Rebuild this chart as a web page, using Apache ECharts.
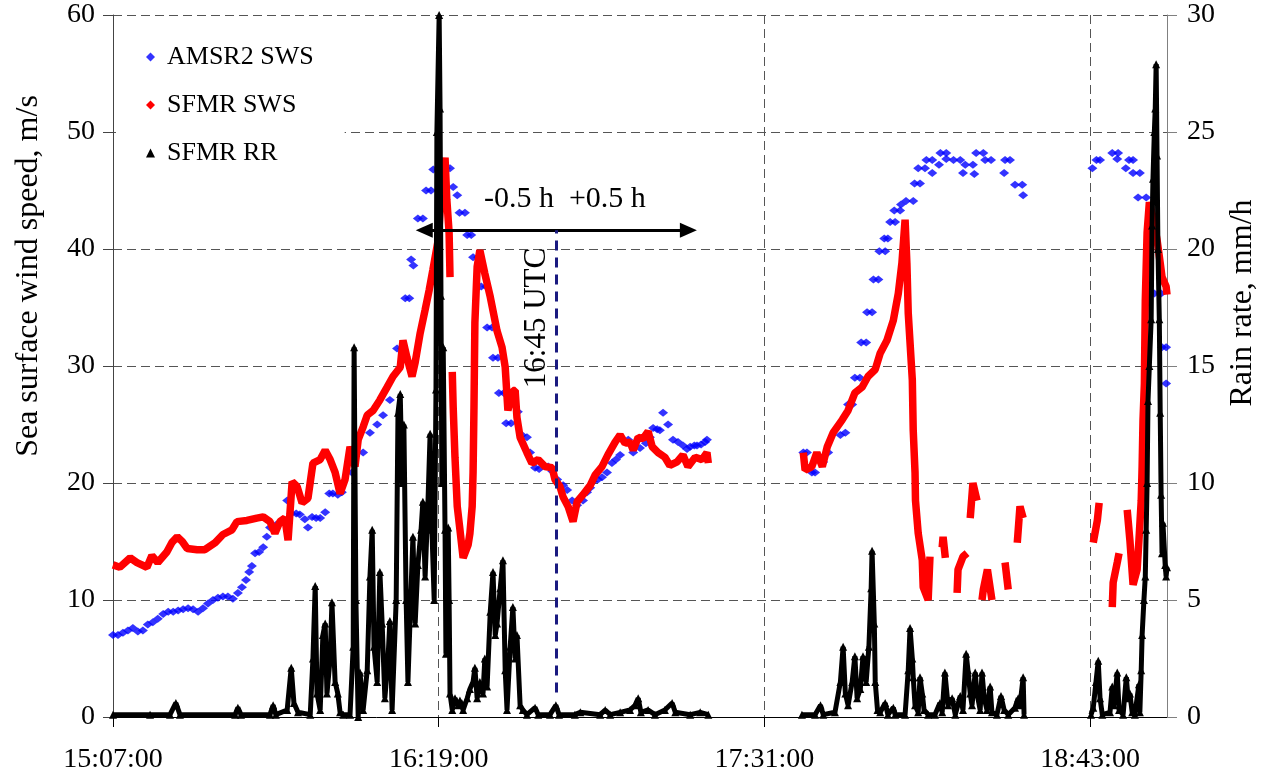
<!DOCTYPE html>
<html>
<head>
<meta charset="utf-8">
<script src="https://cdn.jsdelivr.net/npm/echarts@6/dist/echarts.min.js"></script>
<style>
  html, body { margin: 0; padding: 0; background: #fff; }
  #chart { width: 1268px; height: 782px; }
</style>
</head>
<body>
<div id="chart"></div>
<script>
// x values are minutes after 15:07:00
const timeTicks = ['15:07:00', '16:19:00', '17:31:00', '18:43:00']

const amsrSws = [
  [0.0, 7.0], [1.1, 7.0], [2.2, 7.2], [3.3, 7.4], [4.4, 7.6], [5.5, 7.3], [6.6, 7.4], [7.7, 7.9], [8.8, 8.1], [9.9, 8.4],
  [11.1, 8.8], [12.2, 9.0], [13.3, 9.0], [14.4, 9.1], [15.5, 9.2], [16.6, 9.3], [17.7, 9.2], [18.8, 9.0], [19.9, 9.3], [21.0, 9.7],
  [22.1, 10.0], [23.2, 10.2], [24.3, 10.3], [25.4, 10.3], [26.5, 10.1], [27.6, 10.6], [28.5, 11.1], [29.4, 11.7], [30.1, 12.4], [30.7, 12.9],
  [31.4, 14.0], [32.3, 14.1], [33.2, 14.5], [34.0, 15.4], [34.7, 16.2], [36.0, 16.4], [37.1, 16.7], [38.5, 18.5], [39.4, 17.4], [40.5, 17.4],
  [41.3, 17.3], [42.4, 16.9], [43.1, 16.2], [44.0, 17.1], [44.9, 17.0], [45.8, 17.0], [46.9, 17.5], [47.8, 19.1], [48.6, 19.1], [49.7, 19.0],
  [50.6, 19.2], [52.8, 20.9], [55.3, 22.6], [56.8, 24.3], [58.4, 25.0], [59.7, 25.8], [61.2, 27.1], [62.8, 31.5], [63.9, 31.5], [64.6, 35.8],
  [65.5, 35.8], [65.9, 39.1], [66.4, 38.6], [67.4, 42.6], [68.5, 42.6], [69.2, 45.0], [70.3, 45.0], [70.8, 46.8], [72.1, 46.8], [73.6, 46.9],
  [74.5, 46.9], [75.2, 45.3], [76.1, 44.6], [76.6, 43.1], [77.8, 43.1], [78.3, 41.2], [79.2, 41.2], [79.6, 39.3], [80.7, 39.3], [81.4, 36.8],
  [82.5, 36.8], [82.7, 33.3], [83.8, 33.3], [84.0, 30.7], [85.1, 30.7], [85.3, 27.7], [86.4, 27.7], [86.9, 25.1], [88.0, 25.1], [89.5, 26.1],
  [90.4, 24.1], [91.5, 23.9], [92.2, 22.6], [93.3, 21.3], [94.2, 21.2], [96.2, 21.4], [97.1, 21.0], [98.2, 20.3], [99.5, 19.8], [100.4, 19.4],
  [101.5, 18.5], [102.6, 18.1], [103.9, 18.5], [104.8, 19.2], [105.5, 19.6], [106.1, 20.1], [107.2, 20.3], [108.1, 20.5], [109.2, 20.9], [110.3, 21.7],
  [111.2, 22.0], [112.1, 22.4], [113.9, 23.7], [115.0, 22.6], [116.5, 23.0], [117.8, 23.4], [118.7, 23.9], [119.4, 24.7], [120.3, 24.6], [120.9, 24.5],
  [121.6, 26.0], [122.7, 25.0], [123.8, 23.7], [124.9, 23.5], [126.0, 23.2], [126.9, 22.9], [127.6, 23.1], [128.5, 23.2], [129.1, 23.2], [130.0, 23.3],
  [130.9, 23.5], [131.3, 23.7],
  [152.6, 22.6], [153.4, 22.6], [154.5, 20.9], [155.2, 20.9], [157.0, 21.8], [158.1, 22.6], [160.8, 24.1], [161.9, 24.3], [162.5, 26.7], [163.4, 26.7],
  [164.0, 29.0], [165.1, 29.0], [165.4, 32.0], [166.5, 32.0], [166.7, 34.6], [167.8, 34.6], [168.1, 37.4], [169.2, 37.4], [169.4, 39.8], [170.7, 39.8],
  [170.5, 40.9], [171.3, 40.9], [171.8, 42.3], [172.9, 42.3], [172.7, 43.3], [174.0, 43.3], [174.2, 43.8], [175.3, 44.1], [176.9, 44.1], [177.2, 45.6],
  [178.4, 45.6], [178.0, 46.9], [179.5, 46.9], [179.8, 47.6], [181.1, 47.6], [181.1, 46.5], [182.6, 47.2], [182.9, 48.2], [184.2, 48.2], [184.2, 47.7],
  [185.8, 47.6], [187.3, 47.6], [187.9, 46.5], [188.4, 47.2], [190.1, 47.2], [190.4, 46.4], [190.8, 48.2], [192.4, 48.2], [192.8, 47.6], [194.1, 47.6],
  [197.0, 46.5], [197.2, 47.6], [198.3, 47.6], [199.4, 45.5], [201.0, 45.5], [201.2, 44.6],
  [216.5, 46.9], [217.4, 47.6], [218.2, 47.6], [220.9, 48.2], [222.2, 48.2], [222.0, 47.7], [223.9, 46.9], [224.6, 47.6], [225.5, 47.6], [225.5, 46.5],
  [227.0, 46.5], [226.6, 44.4], [228.4, 44.4], [229.3, 41.2], [230.2, 36.2], [231.7, 36.2], [231.9, 31.6], [232.8, 31.6], [232.8, 28.5]
]

const sfmrSws = [
  [0.0, 13.0], [1.5, 12.8], [3.8, 13.6], [5.3, 13.2], [7.5, 12.8], [8.6, 13.8], [9.9, 13.2], [11.9, 14.1], [13.0, 14.9], [14.2, 15.4],
  [15.3, 15.0], [16.4, 14.4], [18.6, 14.3], [20.3, 14.3], [22.6, 14.9], [24.3, 15.6], [26.3, 16.0], [27.4, 16.7], [29.6, 16.8], [31.8, 17.0],
  [33.2, 17.1], [34.7, 16.7], [35.8, 15.7], [36.9, 16.7], [38.0, 17.0], [38.7, 15.1], [39.6, 20.1], [40.7, 19.7], [41.8, 18.3], [43.1, 18.7],
  [44.2, 21.7], [45.8, 22.0], [46.9, 22.8], [48.0, 22.0], [49.1, 20.9], [50.2, 19.1], [51.3, 20.3], [52.4, 23.1], [53.5, 21.4], [54.2, 23.7],
  [55.3, 24.8], [56.2, 25.8], [57.5, 26.2], [59.0, 27.1], [60.6, 28.2], [61.9, 29.1], [63.5, 29.9], [64.1, 32.2], [65.0, 30.7], [66.1, 29.1],
  [66.8, 30.3], [67.9, 32.8], [69.0, 34.8], [69.9, 36.5], [70.7, 38.2], [71.9, 40.8], [72.7, 45.3], [73.4, 47.8], [73.8, 44.2], [74.3, 41.4],
  [74.5, 37.6], [74.8, null],
  [75.0, 29.5], [75.2, 26.5], [75.6, 22.2], [76.1, 18.0], [76.7, 16.0], [77.4, 13.6], [77.8, 14.0], [78.5, 14.7], [78.9, 15.7], [79.4, 18.0],
  [79.6, 20.9], [79.8, 26.5], [80.0, 33.7], [80.5, 38.5], [81.1, 39.9], [82.2, 37.9], [83.4, 35.9], [84.9, 33.0], [86.0, 31.6], [86.7, 29.9],
  [87.3, 26.2], [88.4, 27.9], [88.9, 27.9], [89.3, 25.6], [90.0, 23.9], [91.5, 22.6], [92.6, 21.7], [94.0, 22.0], [95.5, 21.4], [97.1, 21.3],
  [97.7, 20.3], [98.8, 19.7], [99.5, 18.8], [100.6, 18.0], [101.7, 16.7], [102.6, 18.4], [103.9, 19.0], [105.5, 19.8], [106.6, 20.7], [108.1, 21.4],
  [109.4, 22.4], [111.0, 23.5], [112.1, 24.1], [113.2, 23.4], [114.3, 23.5], [115.0, 22.8], [116.1, 23.9], [117.2, 23.8], [118.3, 24.4], [119.2, 23.1],
  [120.5, 22.6], [122.0, 22.2], [123.1, 21.5], [124.7, 21.8], [126.0, 22.4], [127.1, 21.4], [128.7, 22.2], [130.2, 22.0], [131.3, 22.6], [131.6, 21.7],
  [140, null],
  [152.6, 22.6], [153.0, 21.1], [154.5, 21.4], [155.6, 22.6], [156.8, 21.4], [157.9, 23.1], [159.2, 24.3], [161.2, 25.4], [162.5, 26.2], [164.0, 27.7],
  [165.6, 28.2], [166.9, 29.1], [168.5, 29.7], [169.6, 31.1], [171.1, 32.2], [172.5, 33.9], [173.6, 36.2], [174.4, 38.8], [175.1, 42.5], [175.5, 38.8],
  [175.8, 34.5], [176.7, 28.8], [176.9, 24.5], [177.3, 20.9], [177.4, 18.5], [178.0, 15.7], [178.9, 13.4], [179.1, 11.1], [180.2, 10.0], [180.6, 13.7],
  [181.5, null], [183.3, 14.5], [183.5, 15.4], [184.0, 13.6],
  [185.0, null], [186.6, 10.6], [186.8, 12.6], [187.9, 13.7], [188.8, 14.0],
  [189.2, null], [189.5, 17.0], [190.1, 20.0], [191.0, 18.5],
  [191.5, null], [192.1, 10.0], [192.4, 10.9], [193.3, 12.6], [194.3, 10.0],
  [195.0, null], [197.2, 13.2], [197.9, 10.9],
  [198.5, null], [199.9, 14.9], [200.5, 18.0], [201.2, 17.0],
  [210, null], [216.7, 14.9], [217.6, 16.8], [218.0, 18.3],
  [219.0, null], [220.9, 9.4], [221.1, 11.5], [222.0, 13.2], [222.4, 14.0],
  [223.0, null], [224.2, 17.7], [224.8, 15.1], [225.5, 11.3], [226.4, 12.6], [226.8, 15.1], [227.3, 18.5], [227.5, 21.4], [227.7, 25.4], [228.0, 28.5],
  [228.2, 35.6], [228.6, 41.4], [229.1, 44.0], [229.9, 42.7], [230.8, 40.8], [231.5, 38.8], [231.9, 37.6], [232.8, 36.8], [233.0, 36.1]
]

const rainRate = [
  [0, 0.1], [8.2, 0.1], [12.6, 0.1], [13.9, 0.6], [14.8, 0.1], [27.0, 0.1], [27.6, 0.4], [28.3, 0.1], [34.7, 0.1], [35.4, 0.5],
  [36.0, 0.1], [38.5, 0.3], [39.4, 2.1], [40.0, 0.6], [40.9, 0.2], [43.6, 0.1], [44.2, 2.5], [44.7, 5.6], [45.1, 1.0], [45.8, 0.3],
  [46.4, 3.5], [46.9, 4.0], [47.3, 1.0], [48.0, 2.5], [48.4, 4.9], [49.1, 1.5], [49.7, 1.0], [50.2, 0.2], [50.9, 0.1], [52.4, 0.1],
  [53.1, 3.0], [53.3, 15.8], [53.7, 5.0], [54.2, 0.0], [54.6, 1.9], [55.3, 0.3], [56.2, 2.0], [56.8, 6.0], [57.3, 8.0], [57.7, 3.0],
  [58.4, 1.5], [59.0, 6.2], [59.5, 4.0], [60.1, 0.8], [60.8, 2.5], [61.2, 4.1], [61.7, 0.3], [62.6, 5.0], [63.0, 13.0], [63.5, 13.8],
  [63.9, 10.0], [64.3, 12.5], [64.8, 5.0], [65.2, 1.5], [65.9, 5.5], [66.3, 7.7], [66.8, 4.0], [67.4, 6.5], [68.1, 8.0], [68.5, 9.2],
  [69.0, 6.0], [69.6, 9.0], [70.1, 12.1], [70.5, 8.0], [71.0, 5.0], [71.4, 14.0], [71.6, 25.0], [72.1, 30.0], [72.3, 26.0], [72.5, 18.0],
  [72.7, 10.0], [73.0, 15.8], [73.4, 8.0], [73.6, 2.7], [74.1, 8.1], [74.3, 5.0], [74.5, 1.0], [75.0, 0.3], [75.6, 0.8], [76.3, 0.5],
  [76.7, 0.7], [77.4, 0.3], [78.3, 0.8], [78.9, 1.2], [79.6, 1.5], [80.0, 2.1], [80.5, 0.8], [81.1, 1.5], [81.8, 1.0], [82.2, 2.5],
  [82.7, 1.3], [83.4, 4.5], [84.0, 6.2], [84.5, 3.5], [84.9, 4.0], [85.6, 5.5], [86.2, 6.7], [86.7, 2.0], [87.1, 0.3], [87.8, 3.0],
  [88.4, 4.7], [88.9, 2.5], [89.3, 3.5], [90.0, 0.5], [90.6, 0.3], [91.5, 0.1], [93.3, 0.4], [94.0, 0.1], [96.6, 0.1], [97.9, 0.5],
  [98.6, 0.1], [102.1, 0.1], [103.3, 0.2], [107.7, 0.1], [108.8, 0.3], [109.9, 0.1], [112.1, 0.2], [114.3, 0.3], [115.4, 0.5], [116.1, 0.8],
  [116.7, 0.2], [118.3, 0.3], [119.8, 0.1], [122.0, 0.3], [123.6, 0.6], [124.3, 0.2], [127.6, 0.1], [129.8, 0.2], [131.6, 0.1],
  [140, null],
  [152.3, 0.1], [155.2, 0.1], [156.4, 0.5], [157.0, 0.1], [159.6, 0.2], [160.8, 1.5], [161.4, 3.0], [161.9, 1.0], [162.5, 0.5], [163.4, 1.5],
  [164.0, 2.6], [164.5, 0.8], [165.2, 1.2], [165.8, 2.6], [166.5, 1.5], [167.1, 3.0], [167.6, 5.5], [167.8, 7.1], [168.3, 4.0], [168.5, 1.5],
  [169.0, 0.3], [169.6, 0.2], [170.7, 0.6], [171.3, 0.1], [172.5, 0.4], [172.9, 0.1], [175.1, 0.1], [175.8, 2.0], [176.2, 3.8], [176.7, 2.5],
  [176.9, 1.7], [177.3, 0.5], [178.0, 0.2], [178.4, 1.7], [178.9, 1.0], [179.3, 0.3], [180.2, 0.1], [181.7, 0.1], [182.8, 0.6], [183.3, 0.2],
  [183.9, 1.9], [184.6, 0.5], [185.5, 0.8], [186.2, 0.1], [187.3, 0.9], [187.9, 0.3], [188.6, 2.7], [189.0, 2.0], [189.5, 1.0], [189.9, 0.5],
  [190.6, 1.9], [191.0, 1.0], [191.7, 0.3], [192.1, 1.9], [192.6, 0.8], [193.2, 0.3], [193.9, 1.3], [194.3, 0.2], [195.4, 0.1], [196.3, 0.9],
  [197.0, 0.3], [197.9, 0.1], [199.4, 0.4], [200.1, 0.8], [200.5, 0.5], [201.2, 1.7], [201.4, 0.1],
  [210, null],
  [216.2, 0.1], [216.7, 0.4], [217.3, 1.5], [217.8, 2.4], [218.2, 0.8], [218.7, 0.1], [220.4, 0.2], [220.9, 1.3], [221.3, 0.5], [222.0, 1.9],
  [222.4, 0.3], [223.3, 0.1], [224.0, 1.7], [224.4, 0.8], [224.8, 1.0], [225.3, 0.2], [225.9, 0.1], [226.8, 1.4], [227.0, 0.2], [227.3, 2.0],
  [227.5, 3.5], [227.9, 5.0], [228.2, 6.0], [228.4, 8.0], [228.6, 10.0], [228.8, 13.5], [229.1, 15.0], [229.5, 17.0], [229.7, 21.0], [229.9, 23.0],
  [230.2, 25.0], [230.4, 26.0], [230.6, 27.9], [230.8, 24.0], [231.0, 20.0], [231.3, 17.0], [231.5, 13.0], [231.7, 9.5], [231.9, 7.0], [232.1, 8.3],
  [232.6, 6.5], [232.8, 6.0], [233.0, 6.4]
]

// 16:45 UTC overpass, +/- half an hour window
const overpass = 98
const halfWindow = 30

const serif = '"Liberation Serif", "DejaVu Serif", serif'
const gridDash = { color: '#555', width: 1, type: [9, 5] }

const chart = echarts.init(document.getElementById('chart'))

chart.setOption({
  animation: false,
  backgroundColor: '#fff',
  textStyle: { fontFamily: serif, color: '#000' },
  grid: { left: 113, right: 101, top: 15, bottom: 65, containLabel: false },
  legend: {
    orient: 'vertical',
    left: 116,
    top: 22,
    padding: [20, 31, 20, 30],
    backgroundColor: '#fff',
    itemWidth: 9,
    itemHeight: 9,
    itemGap: 18,
    textStyle: { fontSize: 26, fontFamily: serif, color: '#000', lineHeight: 30, padding: [0, 0, 0, 7] },
    data: [
      { name: 'AMSR2 SWS', icon: 'diamond' },
      { name: 'SFMR SWS', icon: 'diamond' },
      { name: 'SFMR RR', icon: 'triangle' }
    ]
  },
  xAxis: {
    type: 'value',
    min: 0,
    max: 233,
    interval: 72,
    axisLine: { lineStyle: { color: '#000', width: 1 } },
    axisTick: { show: true, length: 10, lineStyle: { color: '#000' } },
    axisLabel: {
      fontSize: 28,
      fontFamily: serif,
      color: '#000',
      margin: 29,
      showMaxLabel: false,
      formatter: v => (v % 72 === 0 ? timeTicks[v / 72] : '')
    },
    splitLine: { show: true, lineStyle: gridDash }
  },
  yAxis: [
    {
      type: 'value',
      min: 0,
      max: 60,
      interval: 10,
      name: 'Sea surface wind speed, m/s',
      nameLocation: 'middle',
      nameGap: 68,
      nameTextStyle: { fontSize: 32, fontFamily: serif, color: '#000', padding: [0, 0, 0, 180] },
      axisLine: { show: true, lineStyle: { color: '#444' } },
      axisTick: { show: true, length: 10, lineStyle: { color: '#444' } },
      axisLabel: { fontSize: 28, fontFamily: serif, color: '#000', margin: 18 },
      splitLine: { show: true, lineStyle: gridDash }
    },
    {
      type: 'value',
      position: 'right',
      min: 0,
      max: 30,
      interval: 5,
      name: 'Rain rate, mm/h',
      nameLocation: 'middle',
      nameGap: 60,
      nameTextStyle: { fontSize: 32, fontFamily: serif, color: '#000', padding: [0, 0, 0, 126] },
      axisLine: { show: true, lineStyle: { color: '#808080' } },
      axisTick: { show: true, length: 10, lineStyle: { color: '#808080' } },
      axisLabel: { fontSize: 28, fontFamily: serif, color: '#000', margin: 20 },
      splitLine: { show: false }
    }
  ],
  series: [
    {
      name: 'AMSR2 SWS',
      type: 'scatter',
      yAxisIndex: 0,
      symbol: 'diamond',
      symbolSize: [10, 8],
      itemStyle: { color: '#0000ff' },
      data: amsrSws,
      markLine: {
        silent: true,
        animation: false,
        label: { show: false },
        data: [
          [
            { coord: [overpass - halfWindow + 0.8, 41.6], symbol: 'triangle', symbolSize: [15, 17] },
            { coord: [overpass + halfWindow - 0.8, 41.6], symbol: 'triangle', symbolSize: [15, 17], lineStyle: { color: '#000', width: 3, type: 'solid' } }
          ],
          [
            { coord: [overpass, 2.1], symbol: 'none' },
            { coord: [overpass, 41.6], symbol: 'none', lineStyle: { color: '#1a1a80', width: 3, type: [10, 7] } }
          ]
        ]
      }
    },
    {
      name: 'SFMR SWS',
      type: 'line',
      yAxisIndex: 0,
      symbol: 'diamond',
      showSymbol: false,
      connectNulls: false,
      itemStyle: { color: '#ff0000' },
      lineStyle: { color: '#ff0000', width: 7.5 },
      data: sfmrSws
    },
    {
      name: 'SFMR RR',
      type: 'line',
      yAxisIndex: 1,
      symbol: 'triangle',
      symbolSize: 8,
      showSymbol: true,
      showAllSymbol: true,
      connectNulls: false,
      itemStyle: { color: '#000' },
      lineStyle: { color: '#000', width: 5 },
      data: rainRate
    }
  ]
})

// annotation texts placed in data coordinates
const pArrow = chart.convertToPixel({ xAxisIndex: 0, yAxisIndex: 0 }, [99.9, 44.3])
const pUtc = chart.convertToPixel({ xAxisIndex: 0, yAxisIndex: 0 }, [93.7, 34.1])

chart.setOption({
  graphic: [
    {
      type: 'text',
      x: pArrow[0],
      y: pArrow[1],
      style: { text: '-0.5 h  +0.5 h', fontSize: 30, fontFamily: serif, fill: '#000', align: 'center', verticalAlign: 'middle' }
    },
    {
      type: 'text',
      x: pUtc[0],
      y: pUtc[1],
      rotation: Math.PI / 2,
      style: { text: '16:45 UTC', fontSize: 31, fontFamily: serif, fill: '#000', align: 'center', verticalAlign: 'middle' }
    }
  ]
})
</script>
</body>
</html>
